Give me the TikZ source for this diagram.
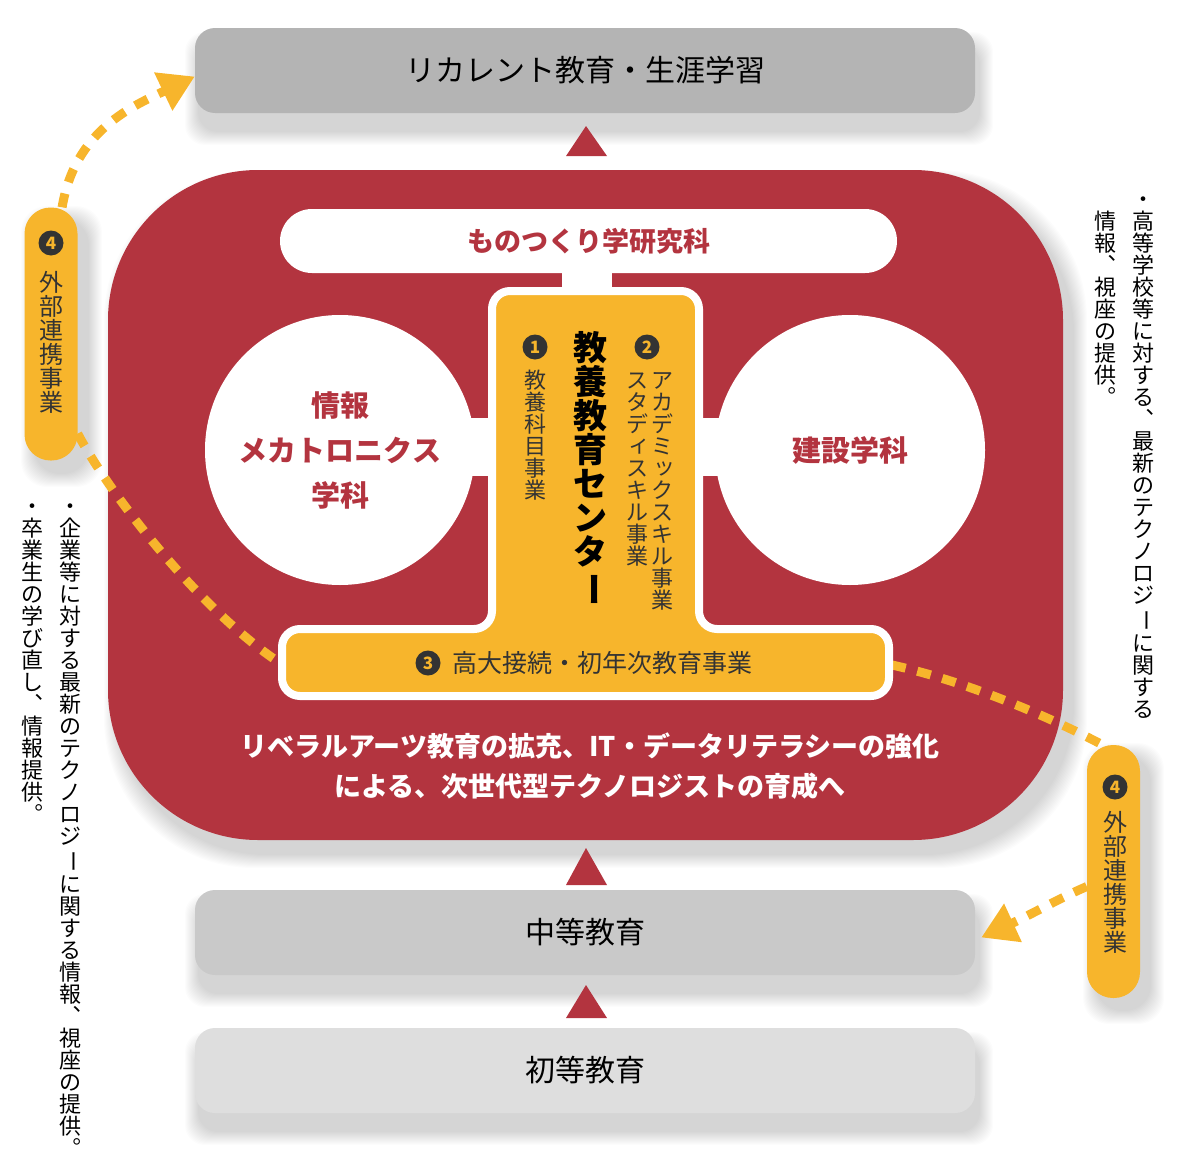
\documentclass[tikz,border=0pt]{standalone}
\usepackage{fontspec}
\usepackage{graphicx}
\setmainfont{Noto Sans CJK JP}
\usetikzlibrary{arrows.meta}

\definecolor{kred}{RGB}{179,52,63}
\definecolor{kyellow}{RGB}{247,181,44}
\definecolor{kgrayA}{RGB}{180,180,180}
\definecolor{kgrayB}{RGB}{201,201,201}
\definecolor{kgrayC}{RGB}{222,222,222}
\definecolor{kdark}{RGB}{51,51,51}
\newcommand{\fsz}[2]{\fontsize{#1pt}{#2pt}\selectfont}

% vertical (tategaki) columns: one em cell per character
\newcommand{\vsmall}[1]{\kern.12em\raisebox{.1em}{#1}\kern-.12em}
\def\vmap#1{%
  \ifx#1ー\rotatebox[origin=c]{-90}{ー}\else
  \ifx#1、︑\else
  \ifx#1。︒\else
  \ifx#1ッ\vsmall{ッ}\else
  \ifx#1ィ\vsmall{ィ}\else
  #1\fi\fi\fi\fi\fi}
\def\vcell#1{\hbox to 1em{\hss\vrule width 0pt height .88em depth .12em\relax\vmap#1\hss}}
\def\vloop#1{\ifx\relax#1\else\vcell{#1}\expandafter\vloop\fi}
\newcommand{\tate}[1]{\vbox{\offinterlineskip\vloop#1\relax}}

\begin{document}
\begin{tikzpicture}[x=1pt, y=-1pt,
  stage/.style={rectangle, rounded corners=20pt, minimum width=780pt, minimum height=85pt, inner sep=0pt, font=\fsz{30}{34}},
  pillbox/.style={rectangle, fill=kyellow, rounded corners=26pt, minimum width=53pt, minimum height=253pt},
  numdot/.style={circle, fill=kdark, text=kyellow, inner sep=0pt, minimum size=25pt, font=\fsz{17}{17}\bfseries},
  linkdash/.style={draw=kyellow, line width=9pt, dash pattern=on 14pt off 12pt},
  tipend/.style={-{Triangle[length=35pt, width=40pt]}},
  vtext/.style={anchor=north, inner sep=0pt},
  haze/.style={black, opacity=0.012},
  dept/.style={circle, fill=white, minimum size=270pt, inner sep=0pt, text=kred, align=center, font=\fsz{29}{45}\bfseries}]

  \useasboundingbox (0,0) rectangle (1200,1175);

  % soft shadows
  \foreach \s in {1,2,...,14} {
    \fill[haze, rounded corners=20pt] (199-\s,46-\s) rectangle (979+\s,131+\s);
    \fill[haze, rounded corners=20pt] (199-\s,908-\s) rectangle (979+\s,993+\s);
    \fill[haze, rounded corners=20pt] (199-\s,1046-\s) rectangle (979+\s,1131+\s);
    \fill[haze, rounded corners=150pt] (118-\s,184-\s) rectangle (1073+\s,854+\s);
    \fill[haze, rounded corners=26pt] (35-\s,220-\s) rectangle (88+\s,473+\s);
    \fill[haze, rounded corners=26pt] (1097-\s,757-\s) rectangle (1150+\s,1010+\s);
  }

  % stages
  \node[stage, fill=kgrayA] (recur) at (585,70.5) {リカレント教育・生涯学習};
  \node[stage, fill=kgrayB] (mid) at (585,932.5) {中等教育};
  \node[stage, fill=kgrayC] (prim) at (585,1070.5) {初等教育};

  \fill[kred] (586,126) -- (607,156) -- (566,156) -- cycle;
  \fill[kred] (586,848) -- (607,885) -- (566,885) -- cycle;
  \fill[kred] (586,985) -- (607,1018) -- (566,1018) -- cycle;

  \node[fill=kred, rounded corners=150pt, minimum width=955pt, minimum height=670pt] (core) at (585.5,505) {};

  % external links
  \node[pillbox] (lpill) at (51,334) {};
  \node[pillbox] (rpill) at (1113.5,871.5) {};
  \coordinate (barW) at (280,663);
  \coordinate (barE) at (892,665);

  \draw[linkdash, tipend] (lpill.85) .. controls (75,130) and (133,106) .. ([yshift=-6pt]recur.west);
  \draw[linkdash] (lpill.-75) .. controls (110,495) and (200,610) .. (barW);
  \draw[linkdash] (barE) .. controls (960,680) and (1040,712) .. (rpill.95);
  \draw[linkdash, tipend] ([yshift=-15pt]rpill.west) .. controls (1060,898) and (1030,915) .. ([xshift=6pt,yshift=-5pt]mid.east);

  % graduate school, departments
  \node[fill=white, rounded corners=32pt, minimum width=617pt, minimum height=64pt, text=kred, font=\fsz{27}{30}\bfseries] (grad) at (588.5,241) {ものつくり学研究科};
  \node[dept] (info) at (340,450) {情報\\メカトロニクス\\学科};
  \node[dept] (civil) at (850,450) {建設学科};
  \fill[white] (562,268) rectangle (612,295);
  \fill[white] (470,418) rectangle (496,476);
  \fill[white] (695,418) rectangle (722,476);

  % center
  \draw[white, line width=8pt, fill=kyellow, rounded corners=18pt] (595,291) -- (699,291) -- (699,629) -- (889,629) -- (889,696) -- (282,696) -- (282,629) -- (492,629) -- (492,291) -- cycle;

  \node[numdot] (n1) at (535,347) {1};
  \node[numdot] (n2) at (647,347) {2};
  \node[numdot] (n3) at (428,663) {3};
  \node[vtext, font=\fsz{22}{22}, text=kdark] (basic) at (535,369) {\tate{教養科目事業}};
  \node[vtext, font=\fsz{34}{34}\bfseries] (center) at (590,330) {\tate{教養教育センター}};
  \node[vtext, font=\fsz{22}{22}, text=kdark] (acad) at (662,369) {\tate{アカデミックスキル事業}};
  \node[vtext, font=\fsz{22}{22}, text=kdark] (study) at (637,369) {\tate{スタディスキル事業}};
  \node[anchor=west, inner sep=0pt, font=\fsz{25}{30}, text=kdark] (bridge) at (452,663) {高大接続・初年次教育事業};

  \node[text=white, align=center, font=\fsz{27}{40}\bfseries] (goal) at (590,766) {リベラルアーツ教育の拡充、IT・データリテラシーの強化\\による、次世代型テクノロジストの育成へ};

  % pills, notes
  \node[numdot] (n4a) at (51,243) {4};
  \node[vtext, font=\fsz{24}{24}, text=kdark] (extA) at (51,270) {\tate{外部連携事業}};
  \node[numdot] (n4b) at (1115,787) {4};
  \node[vtext, font=\fsz{24}{24}, text=kdark] (extB) at (1115,810) {\tate{外部連携事業}};

  \node[vtext, font=\fsz{22}{22}] (noteR1) at (1143,188) {\tate{・高等学校等に対する、最新のテクノロジーに関する}};
  \node[vtext, font=\fsz{22}{22}] (noteR2) at (1105,210) {\tate{情報、視座の提供。}};
  \node[vtext, font=\fsz{22}{22}] (noteL1) at (70,495) {\tate{・企業等に対する最新のテクノロジーに関する情報、視座の提供。}};
  \node[vtext, font=\fsz{22}{22}] (noteL2) at (32,495) {\tate{・卒業生の学び直し、情報提供。}};
\end{tikzpicture}
\end{document}
